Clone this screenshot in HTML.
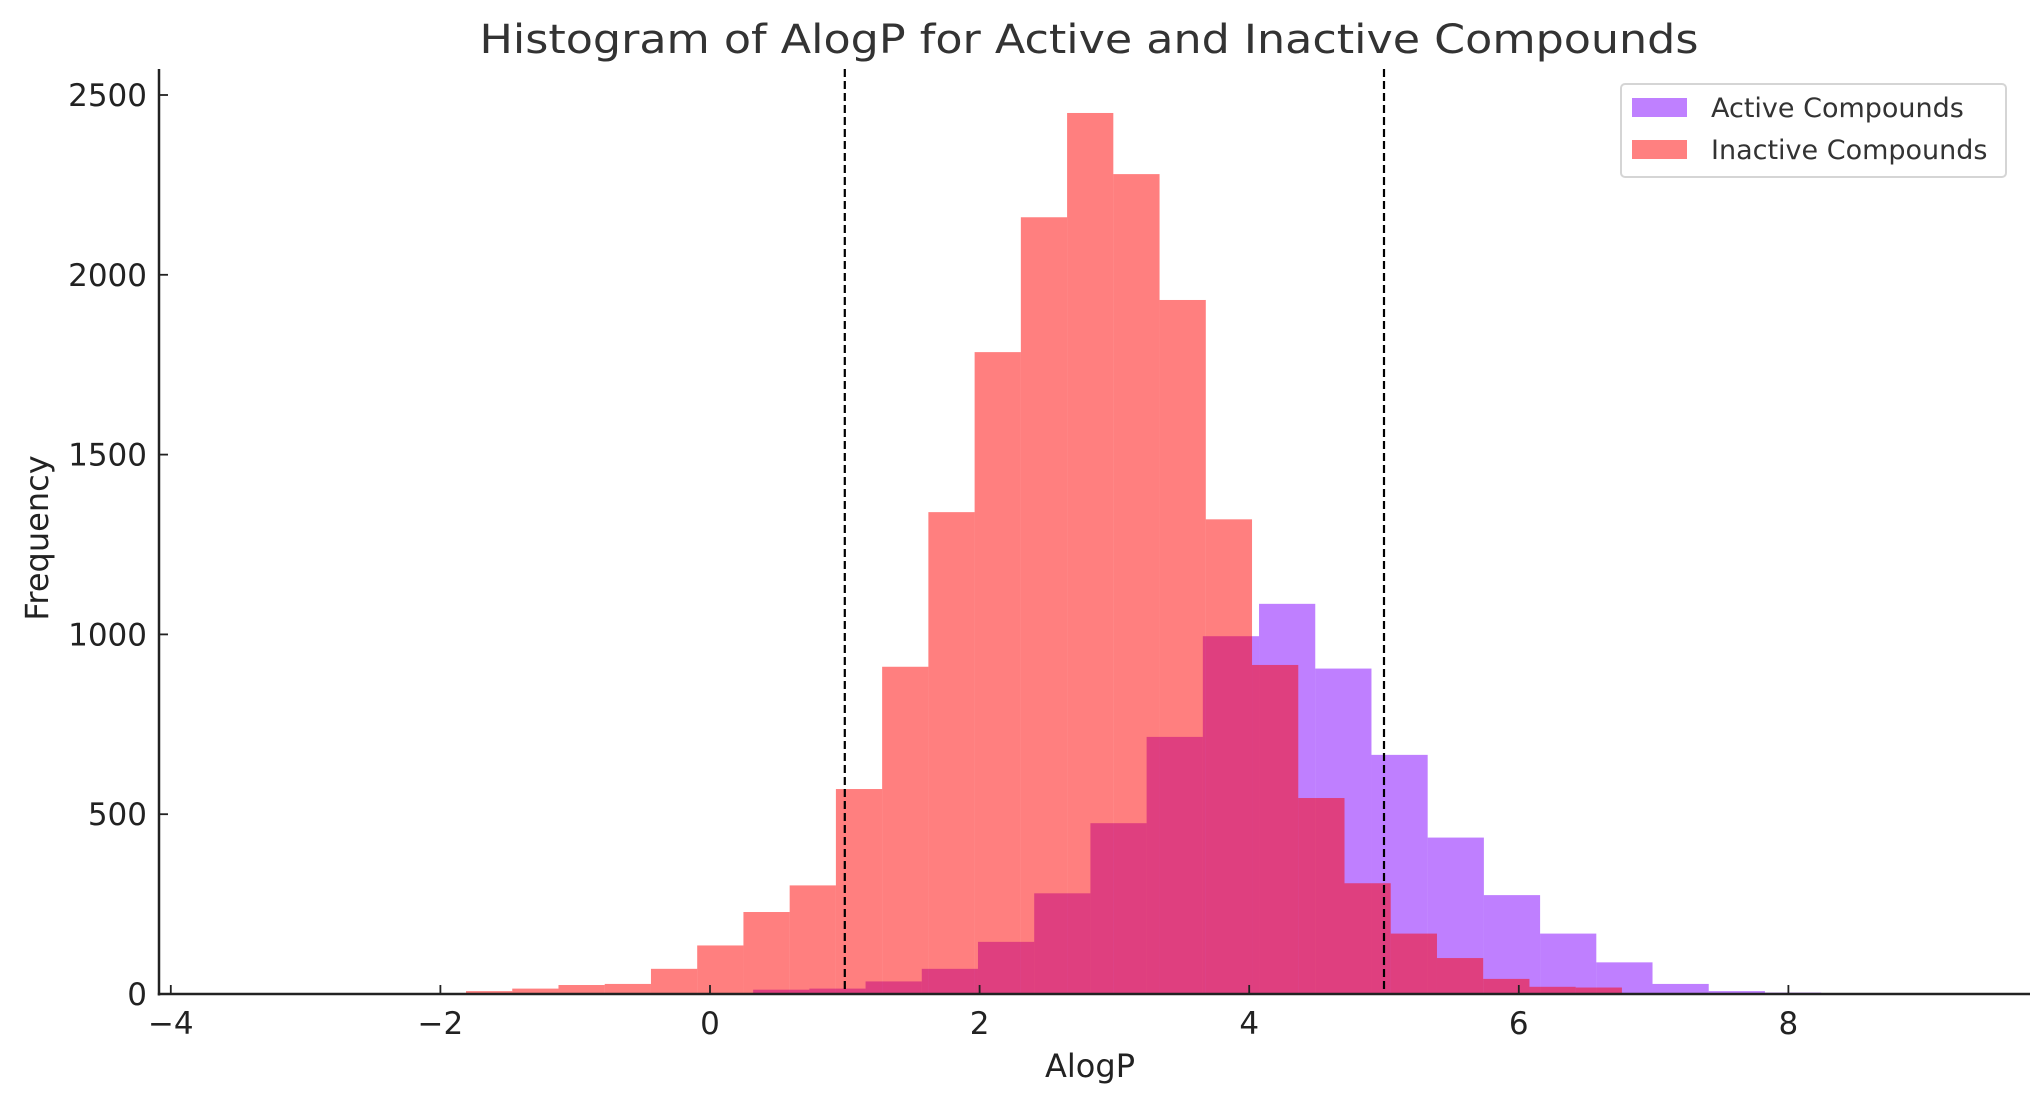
<!DOCTYPE html>
<html><head><meta charset="utf-8"><style>
html,body{margin:0;padding:0;background:#fff;}
svg{display:block;font-family:"DejaVu Sans","Liberation Sans",sans-serif;}
</style></head><body>
<svg id="chart" width="2038" height="1101" viewBox="0 0 2038 1101" xmlns="http://www.w3.org/2000/svg">
<text x="1089" y="53" text-anchor="middle" font-size="40" fill="#333" textLength="1219" lengthAdjust="spacingAndGlyphs">Histogram of AlogP for Active and Inactive Compounds</text>
<g id="bars-active"></g>
<g id="bars-inactive"></g>
<g id="vlines"></g>
<g id="axes"></g>
<text x="1090" y="1077" text-anchor="middle" font-size="32" fill="#222">AlogP</text>
<text x="0" y="0" transform="translate(48,538) rotate(-90)" text-anchor="middle" font-size="32" fill="#222">Frequency</text>
<g>
<rect x="1621" y="84" width="385" height="93" rx="4" fill="#fff" stroke="#d5d5d5" stroke-width="2"/>
<rect x="1632" y="98" width="55" height="19" fill="#bf80ff"/>
<text x="1711" y="117" font-size="27" fill="#333">Active Compounds</text>
<rect x="1632" y="140" width="55" height="19" fill="#ff8080"/>
<text x="1711" y="159" font-size="27" fill="#333">Inactive Compounds</text>
</g>
</svg>
<script>
const activeStart = 0.32;
const activeWidth = 0.417;
const activeCounts = [12,15,35,70,145,280,475,715,995,1085,905,665,435,275,168,88,28,8,4];
const inactiveStart = -1.81;
const inactiveWidth = 0.343;
const inactiveCounts = [8,15,25,28,70,135,228,302,570,910,1340,1785,2160,2450,2280,1930,1320,915,545,308,168,100,42,20,18];
const xTicks = [-4,-2,0,2,4,6,8];
const xTickLabels = ["\u22124","\u22122","0","2","4","6","8"];
const yTicks = [0,500,1000,1500,2000,2500];
const thresholds = [1,5];

const NS = "http://www.w3.org/2000/svg";
const X0 = 710, XS = 134.8, Y0 = 994, YS = (994-95)/2500;
const AX_L = 159, AX_R = 2030, AX_T = 69;
function xs(v){return X0 + v*XS;}
function ys(v){return Y0 - v*YS;}
function mk(tag, attrs, parent){const e=document.createElementNS(NS,tag);for(const k in attrs)e.setAttribute(k,attrs[k]);parent.appendChild(e);return e;}

const ga = document.getElementById('bars-active');
activeCounts.forEach((c,i)=>{
  const x1 = xs(activeStart+i*activeWidth), x2 = xs(activeStart+(i+1)*activeWidth);
  const r = mk('rect',{x:x1,y:ys(c),width:x2-x1,height:Y0-ys(c),fill:'#7f00ff','fill-opacity':0.5},ga);
  
  
});
const gi = document.getElementById('bars-inactive');
inactiveCounts.forEach((c,i)=>{
  const x1 = xs(inactiveStart+i*inactiveWidth), x2 = xs(inactiveStart+(i+1)*inactiveWidth);
  const r = mk('rect',{x:x1,y:ys(c),width:x2-x1,height:Y0-ys(c),fill:'#ff0000','fill-opacity':0.5},gi);
  
  
});
const gv = document.getElementById('vlines');
thresholds.forEach(t=>{
  const l = mk('line',{x1:xs(t),x2:xs(t),y1:AX_T,y2:Y0,stroke:'#000','stroke-width':2.2,'stroke-dasharray':'8,4'},gv);
  
  
});
const g = document.getElementById('axes');
let s = mk('line',{x1:AX_L,x2:AX_L,y1:AX_T,y2:Y0+1.5,stroke:'#222','stroke-width':2.5},g);


s = mk('line',{x1:AX_L-1.2,x2:AX_R,y1:Y0,y2:Y0,stroke:'#222','stroke-width':2.5},g);


xTicks.forEach((t,i)=>{
  const l = mk('line',{x1:xs(t),x2:xs(t),y1:Y0,y2:Y0-9,stroke:'#222','stroke-width':1.8},g);
  
  
  const tx = mk('text',{x:xs(t),y:Y0+40,'text-anchor':'middle','font-size':31,fill:'#222'},g);
  tx.textContent = xTickLabels[i];
  
  
});
yTicks.forEach(t=>{
  const l = mk('line',{x1:AX_L,x2:AX_L+9,y1:ys(t),y2:ys(t),stroke:'#222','stroke-width':1.8},g);
  
  
  const tx = mk('text',{x:AX_L-12,y:ys(t)+11,'text-anchor':'end','font-size':31,fill:'#222'},g);
  tx.textContent = String(t);
  
  
});
</script>
</body></html>
